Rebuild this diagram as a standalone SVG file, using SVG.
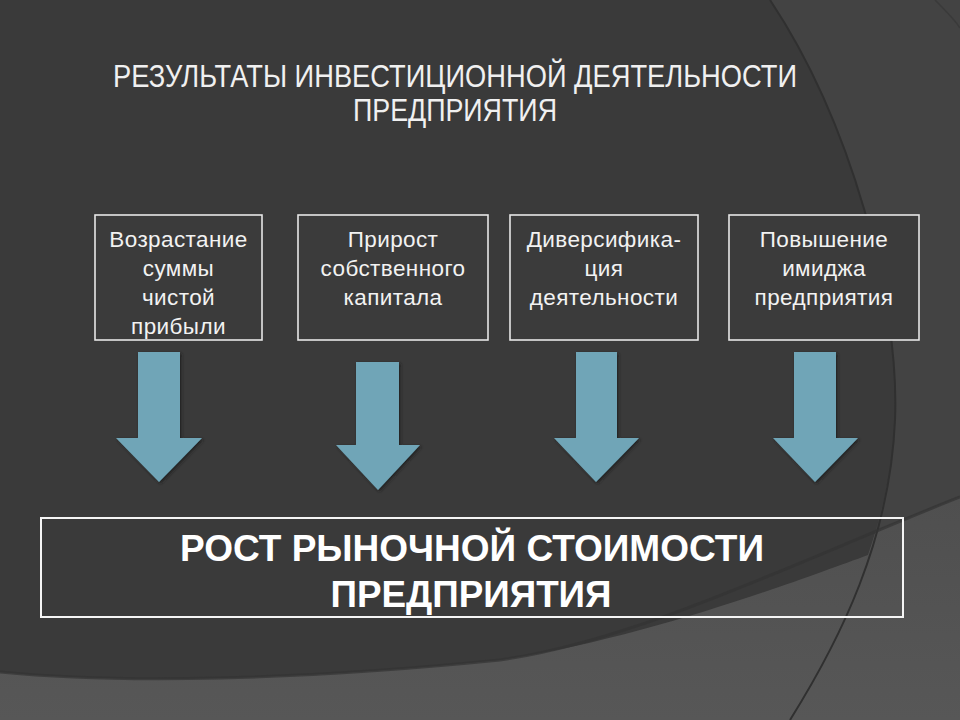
<svg xmlns="http://www.w3.org/2000/svg" width="960" height="720" viewBox="0 0 960 720">
<defs>
<style>
.box{fill:#3b3b3b;stroke:#e6e6e6;stroke-width:1.6}
.t{font-family:"Liberation Sans",Arial,sans-serif;font-size:22.5px;letter-spacing:0.4px;fill:#f2f2f2;text-anchor:middle}
.title{font-family:"Liberation Sans Narrow","Liberation Sans",Arial,sans-serif;font-size:31px;fill:#f0f0f0;text-anchor:middle}
.big{font-family:"Liberation Sans",Arial,sans-serif;font-size:36px;font-weight:bold;fill:#ffffff;text-anchor:middle}
.arrow{fill:#6fa5b7;filter:url(#sh)}
</style>
<filter id="sh" x="-30%" y="-30%" width="160%" height="160%">
<feDropShadow dx="1.5" dy="1.5" stdDeviation="1.5" flood-color="#1e1e1e" flood-opacity="0.9"/>
</filter>
<linearGradient id="bot" x1="0" y1="0" x2="0" y2="1">
<stop offset="0" stop-color="#4f4f4f"/>
<stop offset="1" stop-color="#575757"/>
</linearGradient>
</defs>
<!-- background -->
<rect x="0" y="0" width="960" height="720" fill="#434343"/>
<path d="M0,720 L0,672 C120,684 300,680 500,660 C640,640 800,560 960,497 L960,720 Z" fill="url(#bot)"/>
<path d="M0,0 L770,0 C850,120 900,300 895,420 C893,470 880,520 868,555 C800,580 640,640 500,660 C300,680 120,684 0,672 Z" fill="#3a3a3a"/>
<path d="M770,0 C850,120 900,300 895,420 C890,540 840,640 790,720" fill="none" stroke="#303030" stroke-width="2"/>
<path d="M0,672 C120,684 300,680 500,660 C640,640 800,560 960,497" fill="none" stroke="#333333" stroke-width="3" opacity="0.7"/>
<path d="M935,0 C945,10 955,20 960,28" fill="none" stroke="#3a3a3a" stroke-width="1.5"/>

<!-- title -->
<g id="title">
<text class="title" x="455" y="87" textLength="684" lengthAdjust="spacingAndGlyphs">РЕЗУЛЬТАТЫ ИНВЕСТИЦИОННОЙ ДЕЯТЕЛЬНОСТИ</text>
<text class="title" x="455" y="121" textLength="204" lengthAdjust="spacingAndGlyphs">ПРЕДПРИЯТИЯ</text>
</g>

<g id="node1">
<rect class="box" x="95" y="215" width="167" height="125"/>
<text class="t" x="178.5" y="247">Возрастание</text>
<text class="t" x="178.5" y="276">суммы</text>
<text class="t" x="178.5" y="305">чистой</text>
<text class="t" x="178.5" y="334">прибыли</text>
</g>
<g id="node2">
<rect class="box" x="298" y="215" width="190" height="125"/>
<text class="t" x="393" y="247">Прирост</text>
<text class="t" x="393" y="276">собственного</text>
<text class="t" x="393" y="305">капитала</text>
</g>
<g id="node3">
<rect class="box" x="510" y="215" width="188" height="125"/>
<text class="t" x="604" y="247">Диверсифика-</text>
<text class="t" x="604" y="276">ция</text>
<text class="t" x="604" y="305">деятельности</text>
</g>
<g id="node4">
<rect class="box" x="729" y="215" width="190" height="125"/>
<text class="t" x="824" y="247">Повышение</text>
<text class="t" x="824" y="276">имиджа</text>
<text class="t" x="824" y="305">предприятия</text>
</g>

<g id="connectors">
<polygon class="arrow" points="138,352 180,352 180,438 202,438 159,482 116,438 138,438"/>
<polygon class="arrow" points="356,362 399,362 399,445 420,445 378,490 336,445 356,445"/>
<polygon class="arrow" points="576,352 617,352 617,438 639,438 596,482 554,438 576,438"/>
<polygon class="arrow" points="794,352 836,352 836,438 858,438 815,482 773,438 794,438"/>
</g>

<g id="result">
<rect x="41" y="518" width="862" height="99" fill="none" stroke="#f5f5f5" stroke-width="2"/>
<text class="big" x="472" y="561" textLength="584" lengthAdjust="spacingAndGlyphs">РОСТ РЫНОЧНОЙ СТОИМОСТИ</text>
<text class="big" x="471" y="607" textLength="281" lengthAdjust="spacingAndGlyphs">ПРЕДПРИЯТИЯ</text>
</g>
</svg>
